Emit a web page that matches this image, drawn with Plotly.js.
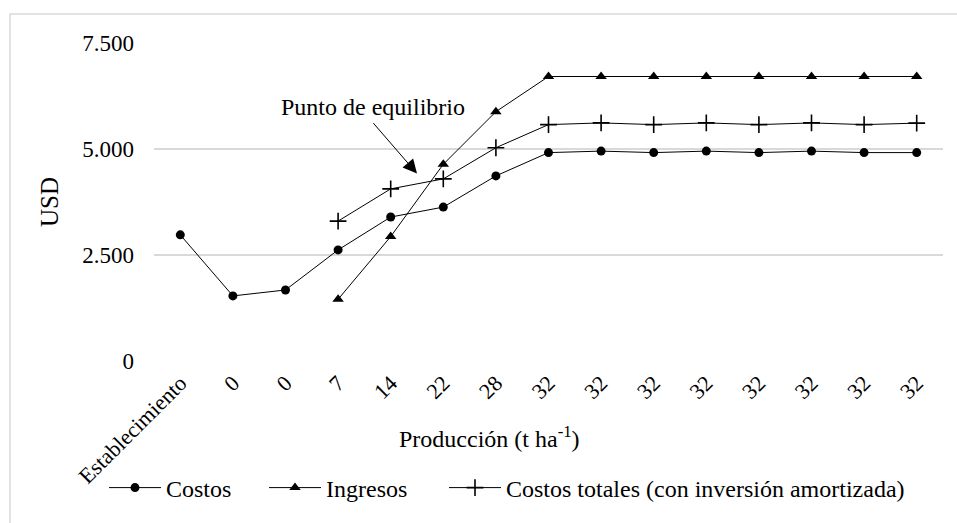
<!DOCTYPE html>
<html><head><meta charset="utf-8">
<script src="https://cdn.plot.ly/plotly-3.0.1.min.js"></script>
<style>html,body{margin:0;padding:0;background:#fff}#c{width:957px;height:523px}</style>
</head><body><div id="c"></div>
<script>
const categories = ["Establecimiento","0","0","7","14","22","28","32","32","32","32","32","32","32","32"];
const costos = [2975,1535,1675,2620,3395,3630,4365,4915,4950,4915,4950,4915,4950,4915,4915];
const ingresos = [null,null,null,1455,2935,4640,5880,6710,6710,6710,6710,6710,6710,6710,6710];
const costosTotales = [null,null,null,3300,4060,4295,5030,5575,5615,5575,5615,5575,5615,5575,5610];
const idx = categories.map((_, i) => i);
const FAM = "Liberation Serif, Times New Roman, serif";
const f = (s) => ({family: FAM, size: s, color: "#000"});
const line = {color: "#000", width: 1};
const traces = [
  {x: idx, y: costos, name: "Costos", mode: "lines+markers", line: line, legend: "legend",
   marker: {symbol: "circle", size: 9, color: "#000"}},
  {x: idx, y: ingresos, name: "Ingresos", mode: "lines+markers", line: line, legend: "legend2",
   marker: {symbol: "triangle-up", size: 10, color: "#000"}},
  {x: idx, y: costosTotales, name: "Costos totales (con inversión amortizada)", mode: "lines+markers", line: line,
   legend: "legend3",
   marker: {symbol: "cross-thin", size: 12, color: "#000", line: {color: "#000", width: 1.6}}}
];
const L = 154, R = 14, T = 43, B = 162, W = 957, H = 523;
const pw = W - L - R, ph = H - T - B;
const px = (x) => (x - L) / pw;
const py = (y) => 1 - (y - T) / ph;
const leg = (xpix) => ({orientation: "h", x: px(xpix), xanchor: "left", y: py(488), yanchor: "middle",
  font: f(24), itemwidth: 52, bgcolor: "rgba(0,0,0,0)"});
const layout = {
  width: W, height: H,
  margin: {l: L, r: R, t: T, b: B, autoexpand: false},
  paper_bgcolor: "#fff", plot_bgcolor: "#fff",
  separators: ",.",
  font: f(24),
  showlegend: true,
  legend: leg(104), legend2: leg(264), legend3: leg(444),
  xaxis: {
    range: [-0.5, 14.5], tickmode: "array", tickvals: idx, ticktext: categories,
    tickangle: -45, showgrid: false, zeroline: false, showline: false, ticks: "",
    automargin: false, tickfont: f(22), ticklabelstandoff: 4
  },
  yaxis: {
    range: [0, 7500], tickvals: [0, 2500, 5000, 7500], tickformat: ",d",
    showgrid: true, gridcolor: "#d9d9d9", gridwidth: 1.3, zeroline: false, showline: false, ticks: "",
    automargin: false, ticklabelstandoff: 19, tickfont: f(23),
    title: {text: "USD", font: f(25), standoff: 16}
  },
  annotations: [
    {x: 4.5, y: 4420, xref: "x", yref: "y", text: "", showarrow: true, arrowhead: 2, arrowsize: 2.8,
     arrowwidth: 1, arrowcolor: "#000", ax: -45, ay: -52, standoff: 0},
    {x: px(373), y: py(107), xref: "paper", yref: "paper", xanchor: "center", yanchor: "middle",
     text: "Punto de equilibrio", showarrow: false, font: f(24)},
    {x: px(489), y: py(437), xref: "paper", yref: "paper", xanchor: "center", yanchor: "middle",
     text: "Producción (t ha<sup>-1</sup>)", showarrow: false, font: f(24)}
  ],
  shapes: [{type: "rect", xref: "paper", yref: "paper", x0: px(10), x1: px(990), y0: py(560), y1: py(14),
            line: {color: "#d9d9d9", width: 1.5}, layer: "below"}]
};
Plotly.newPlot("c", traces, layout, {displayModeBar: false, staticPlot: true});
</script>
</body></html>
